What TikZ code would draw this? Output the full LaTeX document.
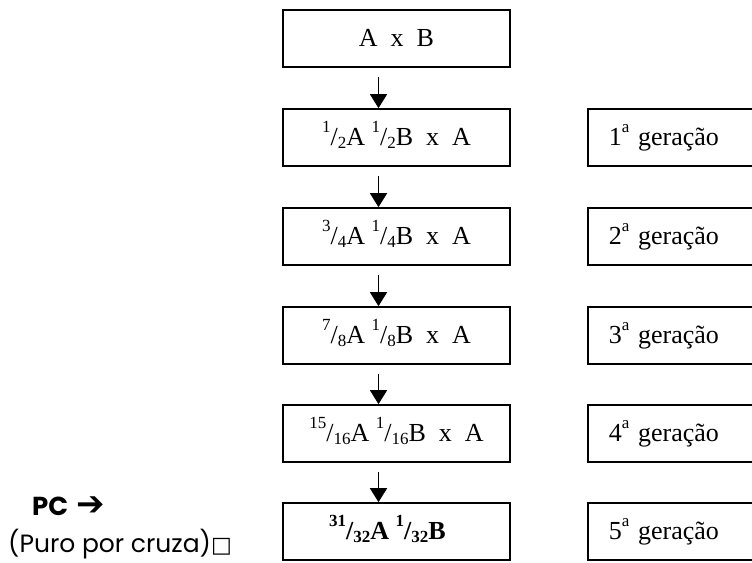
\documentclass[tikz,border=0pt]{standalone}
\usepackage{fontspec}
\setmainfont{Liberation Serif}
\newfontfamily\gothic{Poppins}
\newfontfamily\djv{DejaVu Sans}
\usetikzlibrary{arrows.meta}
\newcommand\sps[1]{\raisebox{12.5pt}{\fontsize{17}{17}\selectfont #1}}
\newcommand\sbs[1]{\raisebox{-3pt}{\fontsize{17}{17}\selectfont #1}}
\tikzset{
  mainbox/.style={draw, line width=1.7pt, minimum width=227pt, minimum height=57pt,
    inner sep=0pt, text height=17pt, text depth=2pt, font=\fontsize{26}{30}\selectfont},
  genbox/.style={draw, line width=1.7pt, anchor=west, minimum height=57pt,
    inner xsep=21pt, inner ysep=0pt, text width=150pt, align=left,
    text height=17pt, text depth=2pt, font=\fontsize{26}{30}\selectfont},
  arr/.style={line width=1.7pt, -{Triangle[width=17pt,length=14pt]}},
}
\begin{document}
\begin{tikzpicture}[x=1pt,y=-1pt]
\useasboundingbox (0,0) rectangle (752,562);
\clip (0,0) rectangle (752,562);
\node[mainbox] (b1) at (396.5,38.5) {A\ \ x\ \ B};
\node[mainbox] (b2) at (396.5,137.5) {\sps{1}/\sbs{2}A \sps{1}/\sbs{2}B\ \ x\ \ A};
\node[mainbox] (b3) at (396.5,236.5) {\sps{3}/\sbs{4}A \sps{1}/\sbs{4}B\ \ x\ \ A};
\node[mainbox] (b4) at (396.5,335.5) {\sps{7}/\sbs{8}A \sps{1}/\sbs{8}B\ \ x\ \ A};
\node[mainbox] (b5) at (396.5,433.5) {\sps{15}/\sbs{16}A \sps{1}/\sbs{16}B\ \ x\ \ A};
\node[mainbox] (b6) at (396.5,531.5) {\bfseries\sps{31}/\sbs{32}A \sps{1}/\sbs{32}B\hspace*{18pt}};
\foreach \a/\b in {b1/b2,b2/b3,b3/b4,b4/b5,b5/b6}
  \draw[arr] ([xshift=-18pt,yshift=-9pt]\a.south) -- ([xshift=-18pt]\b.north);
\node[genbox] (g1) at (587,137.5) {1\sps{a} geração};
\node[genbox] (g2) at (587,236.5) {2\sps{a} geração};
\node[genbox] (g3) at (587,335.5) {3\sps{a} geração};
\node[genbox] (g4) at (587,433.5) {4\sps{a} geração};
\node[genbox] (g5) at (587,531.5) {5\sps{a} geração};
\node[anchor=base west, inner sep=0pt, font=\gothic\fontsize{26}{28}\selectfont] (pc) at (32,515)
  {\textbf{PC}\hspace{8pt}{\djv\bfseries\fontsize{34}{34}\selectfont ➔}};
\node[anchor=base west, inner sep=0pt, font=\gothic\fontsize{25}{28}\selectfont] (puro) at (8,552)
  {(Puro por cruza){\djv\fontsize{22}{24}\selectfont □}};
\end{tikzpicture}
\end{document}
